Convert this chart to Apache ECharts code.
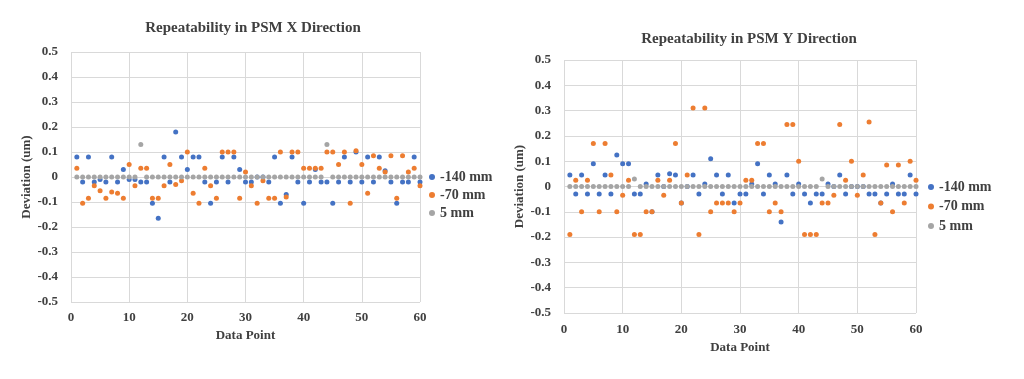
<!DOCTYPE html>
<html>
<head>
<meta charset="utf-8">
<script src="https://cdn.jsdelivr.net/npm/echarts@6/dist/echarts.min.js"></script>
<style>
html,body{margin:0;padding:0;background:#fff;}
#c{width:1024px;height:379px;}
</style>
</head>
<body>
<div id="c"></div>
<script>
// ---- data ----
const dataPoints = Array.from({length: 60}, (_, i) => i + 1);
const seriesNames = ['-140 mm', '-70 mm', '5 mm'];
const titles = ['Repeatability in PSM X Direction', 'Repeatability in PSM Y Direction'];
const xAxisName = 'Data Point';
const yAxisName = 'Deviation (um)';
const yTicks = {min: -0.5, max: 0.5, interval: 0.1};
const xTicks = {min: 0, max: 60, interval: 10};

// X direction
const xDir_m140 = [0.08,-0.02,0.08,-0.02,-0.01,-0.02,0.08,-0.02,0.03,-0.01,
  -0.01,-0.02,-0.02,-0.105,-0.165,0.08,-0.02,0.18,0.08,0.03,
  0.08,0.08,-0.02,-0.105,-0.02,0.08,-0.02,0.08,0.03,-0.02,
  -0.02,0,0,-0.02,0.08,-0.105,-0.07,0.08,-0.02,-0.105,
  -0.02,0.03,-0.02,-0.02,-0.105,-0.02,0.08,-0.02,0.1,-0.02,
  0.08,-0.02,0.08,0.025,-0.02,-0.105,-0.02,-0.02,0.08,-0.02];
const xDir_m70 = [0.035,-0.105,-0.085,-0.035,-0.055,-0.085,-0.06,-0.065,-0.085,0.05,
  -0.035,0.035,0.035,-0.085,-0.085,-0.035,0.05,-0.03,-0.015,0.1,
  -0.065,-0.105,0.035,-0.035,-0.085,0.1,0.1,0.1,-0.085,0.02,
  -0.035,-0.105,-0.015,-0.085,-0.085,0.1,-0.08,0.1,0.1,0.035,
  0.035,0.035,0.035,0.1,0.1,0.05,0.1,-0.105,0.105,0.05,
  -0.065,0.085,0.035,0.02,0.085,-0.085,0.085,0.02,0.035,-0.035];
const xDir_5 = [0,0,0,0,0,0,0,0,0,0,
  0,0.13,0,0,0,0,0,0,0,0,
  0,0,0,0,0,0,0,0,0,0,
  0,0,0,0,0,0,0,0,0,0,
  0,0,0,0.13,0,0,0,0,0,0,
  0,0,0,0,0,0,0,0,0,0];

// Y direction
const yDir_m140 = [0.045,-0.03,0.045,-0.03,0.09,-0.03,0.045,-0.03,0.125,0.09,
  0.09,-0.03,-0.03,0.01,-0.1,0.045,0,0.05,0.045,-0.065,
  0,0.045,-0.03,0.01,0.11,0.045,-0.03,0.045,-0.065,-0.03,
  -0.03,0.01,0.09,-0.03,0.045,0.01,-0.14,0.045,-0.03,0.01,
  -0.03,-0.065,-0.03,-0.03,0.01,0,0.045,-0.03,0,0,
  0,-0.03,-0.03,-0.065,-0.03,0.01,-0.03,-0.03,0.045,-0.03];
const yDir_m70 = [-0.19,0.025,-0.1,0.025,0.17,-0.1,0.17,0.045,-0.1,-0.035,
  0.025,-0.19,-0.19,-0.1,-0.1,0.025,-0.035,0.025,0.17,-0.065,
  0.045,0.31,-0.19,0.31,-0.1,-0.065,-0.065,-0.065,-0.1,-0.065,
  0.025,0.025,0.17,0.17,-0.1,-0.065,-0.1,0.245,0.245,0.1,
  -0.19,-0.19,-0.19,-0.065,-0.065,-0.035,0.245,0.025,0.1,-0.035,
  0.045,0.255,-0.19,-0.065,0.085,-0.1,0.085,-0.065,0.1,0.025];
const yDir_5 = [0,0,0,0,0,0,0,0,0,0,
  0,0.03,0,0,0,0,0,0,0,0,
  0,0,0,0,0,0,0,0,0,0,
  0,0,0,0,0,0,0,0,0,0,
  0,0,0,0.03,0,0,0,0,0,0,
  0,0,0,0,0,0,0,0,0,0];

const colors = ['#4472C4', '#ED7D31', '#A5A5A5'];

// ---- chart ----
const FONT = '"Liberation Serif", "Times New Roman", serif';
const TXT = '#404040';
const chart = echarts.init(document.getElementById('c'), null, {renderer: 'canvas'});

function pairs(vals) { return dataPoints.map((x, i) => [x, vals[i]]); }

const gridDefs = [
  {left: 71, top: 52, width: 349, height: 250, yNameGap: 37, xNameGap: 24, yLabelMargin: 13, xLabelMargin: 9},
  {left: 564, top: 60, width: 352, height: 253, yNameGap: 38, xNameGap: 28, yLabelMargin: 13, xLabelMargin: 10}
];

const option = {
  animation: false,
  color: colors,
  title: [
    {text: titles[0], left: 253, top: 21, textAlign: 'center', padding: 0,
      textStyle: {fontFamily: FONT, fontSize: 15, fontWeight: 'bold', color: TXT}},
    {text: titles[1], left: 749, top: 32, textAlign: 'center', padding: 0,
      textStyle: {fontFamily: FONT, fontSize: 15, fontWeight: 'bold', color: TXT}}
  ],
  legend: [
    {orient: 'vertical', left: 429, top: 170, itemWidth: 6, itemHeight: 6, itemGap: 4,
      icon: 'circle', padding: 0, data: seriesNames,
      textStyle: {fontFamily: FONT, fontSize: 14, fontWeight: 'bold', color: TXT}},
    {orient: 'vertical', left: 928, top: 180, itemWidth: 6, itemHeight: 6, itemGap: 5.5,
      icon: 'circle', padding: 0, data: seriesNames,
      textStyle: {fontFamily: FONT, fontSize: 14, fontWeight: 'bold', color: TXT}}
  ],
  grid: gridDefs.map(g => ({left: g.left, top: g.top, width: g.width, height: g.height, containLabel: false})),
  xAxis: gridDefs.map((g, i) => ({
    type: 'value', gridIndex: i, min: xTicks.min, max: xTicks.max, interval: xTicks.interval,
    name: xAxisName, nameLocation: 'middle', nameGap: g.xNameGap,
    nameTextStyle: {fontFamily: FONT, fontSize: 13, fontWeight: 'bold', color: TXT},
    axisLine: {show: false}, axisTick: {show: false},
    axisLabel: {fontFamily: FONT, fontSize: 13, fontWeight: 'bold', color: TXT, margin: g.xLabelMargin},
    splitLine: {show: true, lineStyle: {color: '#d9d9d9', width: 1}}
  })),
  yAxis: gridDefs.map((g, i) => ({
    type: 'value', gridIndex: i, min: yTicks.min, max: yTicks.max, interval: yTicks.interval,
    name: yAxisName, nameLocation: 'middle', nameGap: g.yNameGap,
    nameTextStyle: {fontFamily: FONT, fontSize: 13, fontWeight: 'bold', color: TXT},
    axisLine: {show: false}, axisTick: {show: false},
    axisLabel: {fontFamily: FONT, fontSize: 13, fontWeight: 'bold', color: TXT, margin: g.yLabelMargin},
    splitLine: {show: true, lineStyle: {color: '#d9d9d9', width: 1}}
  })),
  series: [
    {name: seriesNames[0], data: pairs(xDir_m140), xAxisIndex: 0, yAxisIndex: 0},
    {name: seriesNames[1], data: pairs(xDir_m70), xAxisIndex: 0, yAxisIndex: 0},
    {name: seriesNames[2], data: pairs(xDir_5), xAxisIndex: 0, yAxisIndex: 0},
    {name: seriesNames[0], data: pairs(yDir_m140), xAxisIndex: 1, yAxisIndex: 1},
    {name: seriesNames[1], data: pairs(yDir_m70), xAxisIndex: 1, yAxisIndex: 1},
    {name: seriesNames[2], data: pairs(yDir_5), xAxisIndex: 1, yAxisIndex: 1}
  ].map((s, i) => Object.assign({
    type: 'scatter', symbol: 'circle', symbolSize: 5,
    itemStyle: {color: colors[i % 3], opacity: 1}
  }, s))
};
chart.setOption(option);
</script>
</body>
</html>
